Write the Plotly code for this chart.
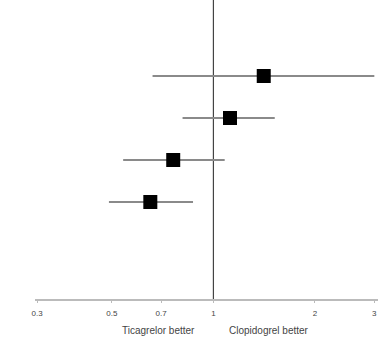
import plotly.graph_objects as go

rows = [4, 3, 2, 1]
point = [1.41, 1.12, 0.76, 0.65]
lower = [0.66, 0.81, 0.54, 0.49]
upper = [3.0, 1.52, 1.08, 0.87]
tick_vals = [0.3, 0.5, 0.7, 1, 2, 3]
tick_text = ["0.3", "0.5", "0.7", "1", "2", "3"]

fig = go.Figure()
fig.add_trace(go.Scatter(
    x=point, y=rows, mode="markers",
    marker=dict(symbol="square", size=14, color="black"),
    error_x=dict(type="data", symmetric=False,
                 array=[u - p for u, p in zip(upper, point)],
                 arrayminus=[p - l for p, l in zip(point, lower)],
                 color="#8a8a8a", thickness=2, width=0),
    showlegend=False,
))
fig.add_shape(type="line", xref="x", yref="paper", x0=1, x1=1, y0=0, y1=1,
              line=dict(color="#444444", width=1.2), layer="below")

fig.update_xaxes(type="log", range=[-0.529, 0.488], tickvals=tick_vals, ticktext=tick_text,
                 showgrid=False, zeroline=False, showline=True, linecolor="#bbbbbb", linewidth=1.5,
                 ticks="outside", ticklen=2, tickcolor="#bbbbbb", ticklabelstandoff=4,
                 tickfont=dict(size=8, color="#444444", family="Liberation Sans"))
fig.update_yaxes(range=[-1.31, 5.81], visible=False, showgrid=False, zeroline=False)

fig.add_annotation(text="Ticagrelor better", x=158, y=330, xref="paper", yref="paper",
                   xanchor="center", yanchor="middle",
                   showarrow=False, font=dict(size=10, color="#444444", family="Liberation Sans"))
fig.add_annotation(text="Clopidogrel better", x=269, y=330, xref="paper", yref="paper",
                   xanchor="center", yanchor="middle",
                   showarrow=False, font=dict(size=10, color="#444444", family="Liberation Sans"))

fig.update_layout(width=385, height=341, margin=dict(l=35, r=7, t=0, b=42),
                  plot_bgcolor="white", paper_bgcolor="white")

# convert annotation pixel positions to paper coords
pw = 385 - 35 - 7
ph = 341 - 0 - 42
for a in fig.layout.annotations:
    a.x = (a.x - 35) / pw
    a.y = (341 - 42 - a.y) / ph

fig.write_html("out.html")
